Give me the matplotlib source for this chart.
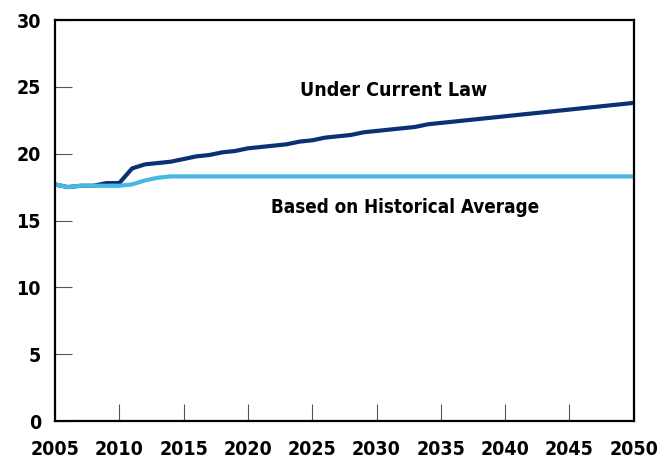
import matplotlib
matplotlib.use("Agg")
import matplotlib.pyplot as plt
from matplotlib import font_manager

years = list(range(2005, 2051))
current_law = [17.7, 17.5, 17.6, 17.6, 17.8, 17.8, 18.9, 19.2, 19.3, 19.4,
               19.6, 19.8, 19.9, 20.1, 20.2, 20.4, 20.5, 20.6, 20.7, 20.9,
               21.0, 21.2, 21.3, 21.4, 21.6, 21.7, 21.8, 21.9, 22.0, 22.2,
               22.3, 22.4, 22.5, 22.6, 22.7, 22.8, 22.9, 23.0, 23.1, 23.2,
               23.3, 23.4, 23.5, 23.6, 23.7, 23.8]
historical = [17.7, 17.5, 17.6, 17.6, 17.6, 17.6, 17.7, 18.0, 18.2, 18.3] + [18.3] * 36

fams = {f.name for f in font_manager.fontManager.ttflist}
if 'Liberation Sans Narrow' in fams:
    fam = ['Liberation Sans Narrow', 'DejaVu Sans']
    stretch = 'normal'
else:
    fam = ['DejaVu Sans']
    stretch = 'condensed'
plt.rcParams['font.family'] = fam
plt.rcParams['font.weight'] = 'bold'
plt.rcParams['font.stretch'] = stretch

fig = plt.figure(figsize=(6.7, 4.62), dpi=100)
ax = fig.add_axes([0.082, 0.0887, 0.864, 0.868])
ax.plot(years, current_law, color='#0b3175', lw=3.0, solid_capstyle='butt', clip_on=False)
ax.plot(years, historical, color='#45b8e3', lw=3.0, solid_capstyle='butt', clip_on=False)

ax.set_xlim(2005, 2050)
ax.set_ylim(0, 30)
ax.set_xticks(range(2005, 2051, 5))
ax.set_yticks(range(0, 31, 5))
ax.tick_params(direction='in', length=12, width=0.8, color='#555555', labelsize=14)
ax.tick_params(axis='x', pad=14)
ax.tick_params(axis='y', pad=10)
for lab in ax.get_xticklabels() + ax.get_yticklabels():
    lab.set_fontweight('bold')
    lab.set_fontstretch(stretch)
for s in ax.spines.values():
    s.set_linewidth(1.6)
    s.set_color('black')

ax.text(2031.3, 24.7, 'Under Current Law', ha='center', va='center', fontsize=14,
        fontweight='bold', fontstretch=stretch)
ax.text(2032.2, 16.0, 'Based on Historical Average', ha='center', va='center', fontsize=13.5,
        fontweight='bold', fontstretch=stretch)

fig.savefig('out.png', dpi=100)
